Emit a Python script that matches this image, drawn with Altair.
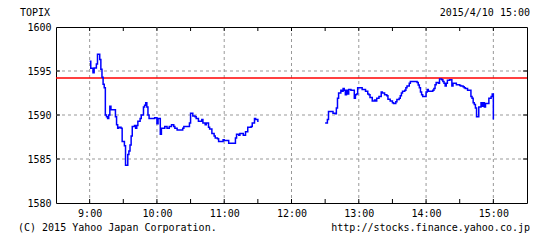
import altair as alt
import pandas as pd

# ---- data ----
am_times = ["9:00", "9:01", "9:03", "9:04", "9:06", "9:07", "9:09", "9:10", "9:11", "9:12",
            "9:13", "9:14", "9:15", "9:16", "9:17", "9:18", "9:19", "9:23", "9:24", "9:25",
            "9:26", "9:28", "9:29", "9:31", "9:32", "9:34", "9:35", "9:36", "9:37", "9:38",
            "9:40", "9:41", "9:42", "9:43", "9:45", "9:46", "9:48", "9:49", "9:50", "9:51",
            "9:52", "9:53", "9:58", "10:00", "10:01", "10:03", "10:04", "10:07", "10:09", "10:11",
            "10:13", "10:15", "10:16", "10:18", "10:23", "10:24", "10:29", "10:30", "10:32", "10:34",
            "10:35", "10:37", "10:40", "10:41", "10:43", "10:44", "10:46", "10:47", "10:49", "10:51",
            "10:52", "10:54", "10:55", "10:59", "11:00", "11:04", "11:10", "11:11", "11:13", "11:14",
            "11:17", "11:19", "11:21", "11:24", "11:25", "11:27", "11:28", "11:30"]
am_values = [1596.1, 1595.3, 1594.8, 1595.35, 1595.8, 1596.9, 1596.3, 1595.2, 1594.3, 1593.5,
             1593.1, 1590.0, 1589.8, 1589.6, 1590.0, 1591.0, 1590.6, 1589.8, 1588.9, 1588.5,
             1588.6, 1588.5, 1587.0, 1586.5, 1584.3, 1585.5, 1585.9, 1586.6, 1587.6, 1588.7,
             1588.8, 1588.5, 1588.8, 1589.3, 1589.6, 1590.0, 1590.9, 1591.1, 1591.4, 1590.9,
             1590.0, 1589.6, 1589.7, 1589.0, 1589.6, 1587.8, 1588.5, 1588.7, 1588.5, 1588.7,
             1588.9, 1588.7, 1588.5, 1588.3, 1588.5, 1588.7, 1589.1, 1590.2, 1589.9, 1589.8,
             1589.6, 1589.3, 1589.5, 1589.1, 1588.9, 1589.1, 1588.6, 1588.4, 1587.9, 1587.6,
             1587.4, 1587.3, 1587.0, 1587.2, 1587.1, 1586.8, 1587.4, 1587.8, 1587.7, 1587.9,
             1587.7, 1588.1, 1588.6, 1588.7, 1589.1, 1589.6, 1589.5, 1589.2]

pm_times = ["12:30", "12:32", "12:33", "12:36", "12:37", "12:39", "12:40", "12:41", "12:42", "12:44",
            "12:45", "12:46", "12:47", "12:48", "12:49", "12:50", "12:51", "12:53", "12:56", "12:57",
            "12:58", "12:59", "13:03", "13:06", "13:08", "13:09", "13:10", "13:12", "13:14", "13:15",
            "13:16", "13:18", "13:20", "13:21", "13:23", "13:25", "13:26", "13:28", "13:30", "13:31",
            "13:33", "13:34", "13:36", "13:37", "13:38", "13:39", "13:41", "13:42", "13:43", "13:45",
            "13:46", "13:51", "13:52", "13:53", "13:54", "13:55", "13:56", "13:57", "14:00", "14:01",
            "14:02", "14:06", "14:07", "14:08", "14:09", "14:11", "14:12", "14:14", "14:15", "14:16",
            "14:17", "14:18", "14:19", "14:21", "14:23", "14:24", "14:27", "14:30", "14:31", "14:33",
            "14:34", "14:35", "14:37", "14:40", "14:41", "14:42", "14:43", "14:44", "14:45", "14:47",
            "14:49", "14:50", "14:51", "14:52", "14:53", "14:56", "14:58", "14:59", "15:00"]
pm_values = [1589.1, 1589.5, 1590.4, 1590.4, 1590.2, 1590.15, 1590.8, 1591.9, 1592.5, 1592.8,
             1592.7, 1593.0, 1592.8, 1592.3, 1592.8, 1592.4, 1592.9, 1592.8, 1591.9, 1592.3,
             1592.4, 1593.1, 1592.9, 1592.7, 1592.4, 1592.3, 1592.0, 1591.6, 1591.7, 1591.6,
             1591.9, 1592.1, 1592.6, 1592.5, 1592.3, 1592.2, 1591.8, 1591.6, 1591.4, 1591.3,
             1591.5, 1591.75, 1591.9, 1592.2, 1592.5, 1592.7, 1592.8, 1593.1, 1593.3, 1593.6,
             1593.8, 1593.8, 1593.7, 1593.4, 1593.1, 1592.6, 1592.3, 1592.1, 1592.6, 1592.9,
             1592.7, 1592.8, 1593.0, 1593.45, 1593.7, 1593.6, 1594.1, 1594.0, 1593.8, 1593.6,
             1593.3, 1593.6, 1593.95, 1594.0, 1593.3, 1593.6, 1593.45, 1593.35, 1593.3, 1593.2,
             1593.1, 1593.0, 1592.8, 1592.1, 1591.9, 1591.4, 1591.2, 1590.8, 1589.8, 1590.9,
             1591.4, 1591.0, 1591.4, 1590.9, 1591.3, 1591.9, 1592.1, 1592.4, 1589.5]

prev_close = 1594.21
y_ticks = [1580, 1585, 1590, 1595, 1600]
y_grid = [1585, 1590, 1595]
hour_labels = ["9:00", "10:00", "11:00", "12:00", "13:00", "14:00", "15:00"]
half_hours = ["9:00", "9:30", "10:00", "10:30", "11:00", "11:30", "12:00", "12:30",
              "13:00", "13:30", "14:00", "14:30", "15:00"]
x_start, x_end = "8:30", "15:30"
title_left = "TOPIX"
title_right = "2015/4/10 15:00"
foot_left = "(C) 2015 Yahoo Japan Corporation."
foot_right = "http://stocks.finance.yahoo.co.jp"


def to_min(t):
    h, m = t.split(":")
    return int(h) * 60 + int(m)


df = pd.DataFrame({
    "t": [to_min(t) for t in am_times + pm_times],
    "v": am_values + pm_values,
    "session": ["am"] * len(am_times) + ["pm"] * len(pm_times),
})

W, H = 471, 176
FONT = "DejaVu Sans Mono"
x_scale = alt.Scale(domain=[to_min(x_start), to_min(x_end)], nice=False, zero=False)
y_scale = alt.Scale(domain=[y_ticks[0], y_ticks[-1]], nice=False, zero=False)

hour_df = pd.DataFrame({"t": [to_min(t) for t in hour_labels]})
half_df = pd.DataFrame({"t": [to_min(t) for t in half_hours]})
ygrid_df = pd.DataFrame({"v": y_grid})

line = alt.Chart(df).mark_line(interpolate="step-after", color="#0000ff", strokeWidth=1.5).encode(
    x=alt.X("t:Q", scale=x_scale,
            axis=alt.Axis(values=[to_min(t) for t in hour_labels],
                          labelExpr="floor(datum.value / 60) + ':00'",
                          title=None, ticks=False, domain=False, grid=False,
                          labelFont=FONT, labelFontSize=10, labelColor="black",
                          labelPadding=5)),
    y=alt.Y("v:Q", scale=y_scale,
            axis=alt.Axis(values=y_ticks, format="d", title=None, ticks=False, domain=False,
                          grid=False, labelFont=FONT, labelFontSize=10, labelColor="black",
                          labelPadding=5)),
    detail="session:N",
)

vgrid = alt.Chart(hour_df).mark_rule(color="#999999", strokeDash=[3, 3], strokeWidth=1).encode(
    x=alt.X("t:Q", scale=x_scale))
hgrid = alt.Chart(ygrid_df).mark_rule(color="#999999", strokeDash=[3, 3], strokeWidth=1).encode(
    y=alt.Y("v:Q", scale=y_scale))

top_ticks = alt.Chart(half_df).mark_rule(color="black", strokeWidth=1).encode(
    x=alt.X("t:Q", scale=x_scale), y=alt.value(0), y2=alt.value(4))
bot_ticks = alt.Chart(half_df).mark_rule(color="black", strokeWidth=1).encode(
    x=alt.X("t:Q", scale=x_scale), y=alt.value(H - 4), y2=alt.value(H))
right_ticks = alt.Chart(ygrid_df).mark_rule(color="black", strokeWidth=1).encode(
    y=alt.Y("v:Q", scale=y_scale), x=alt.value(W - 4), x2=alt.value(W))
left_ticks = alt.Chart(ygrid_df).mark_rule(color="black", strokeWidth=1).encode(
    y=alt.Y("v:Q", scale=y_scale), x=alt.value(0), x2=alt.value(4))

red = alt.Chart(pd.DataFrame({"v": [prev_close]})).mark_rule(color="#ff0000", strokeWidth=1.5).encode(
    y=alt.Y("v:Q", scale=y_scale))


def label(text, x, y, align):
    return alt.Chart(pd.DataFrame({"s": [text]})).mark_text(
        font=FONT, fontSize=10, color="black", align=align, baseline="middle").encode(
        text="s:N", x=alt.value(x), y=alt.value(y))


texts = (label(title_left, -36, -14, "left") + label(title_right, 474, -14, "right")
         + label(foot_left, -38, 201, "left") + label(foot_right, 474, 201, "right"))

chart = alt.layer(vgrid, hgrid, red, line, top_ticks, bot_ticks, right_ticks, left_ticks, texts).properties(
    width=W, height=H,
    autosize=alt.AutoSizeParams(type="none"),
    padding={"left": 56, "top": 27, "right": 30, "bottom": 37},
    background="white",
).configure_view(stroke="black", strokeWidth=1)

chart.save("out.html", embed_options={"renderer": "svg", "actions": False})
